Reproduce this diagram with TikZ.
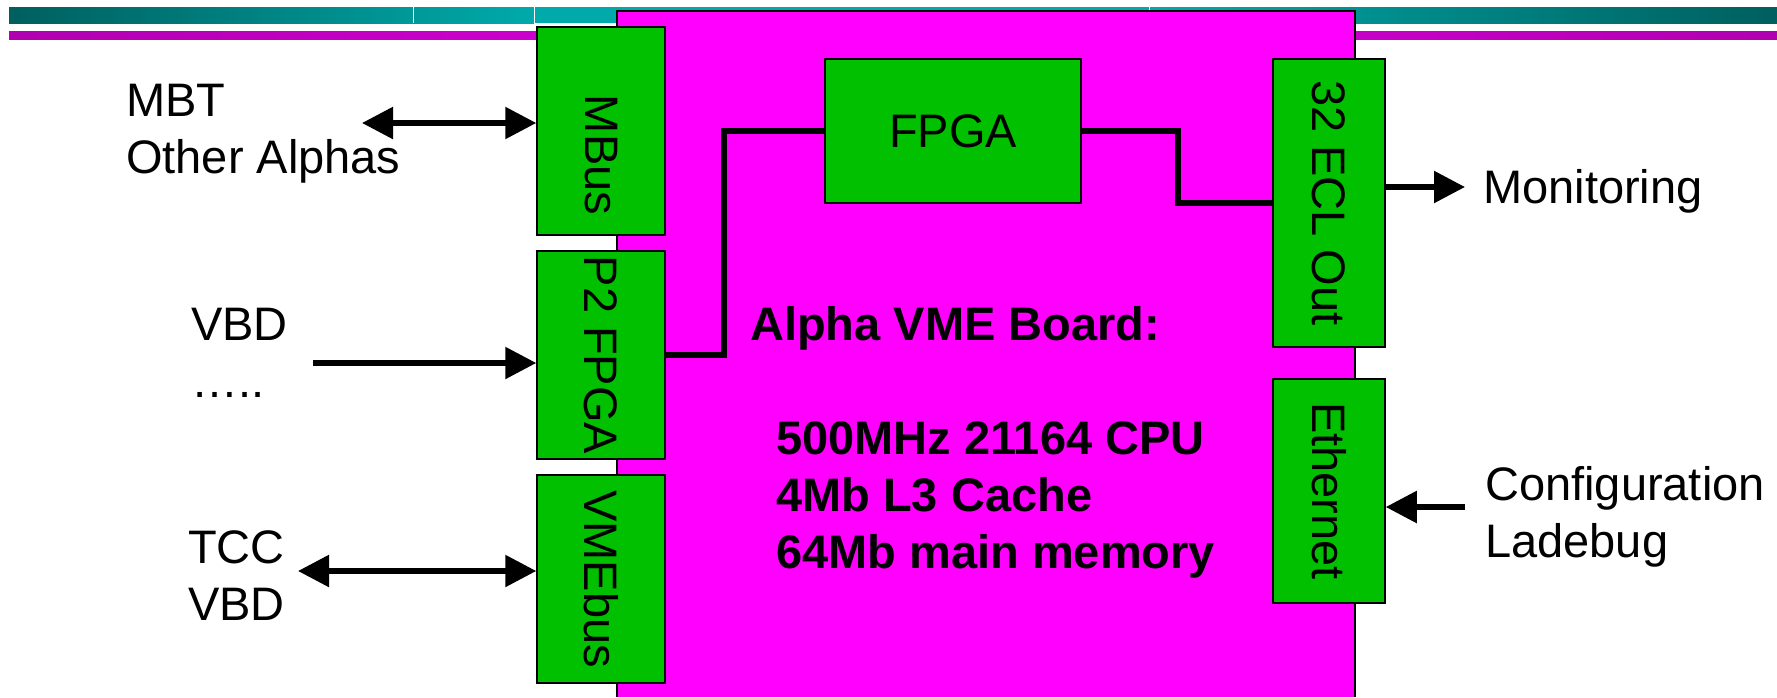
\documentclass[tikz,border=0pt]{standalone}
\usepackage{fontspec}
\usepackage{graphicx}
\setmainfont{Liberation Sans}
\usepackage{tikz}
\usetikzlibrary{arrows.meta, positioning}
\definecolor{boardmag}{HTML}{FF00FF}
\definecolor{chipgreen}{HTML}{00C000}
\definecolor{tealdark}{HTML}{005F5F}
\definecolor{teallight}{HTML}{00AAAA}
\definecolor{barmagdark}{HTML}{B000B0}
\definecolor{barmaglight}{HTML}{E000E0}
\tikzstyle{chip}=[rectangle,draw=black,fill=chipgreen,line width=1.5pt,
  inner sep=0pt,font=\fontsize{47}{56}\selectfont]
\tikzstyle{wire}=[line width=5.5pt,color=black]
\tikzstyle{arr}=[-{Triangle[length=31pt,width=31pt]},line width=5.5pt]
\tikzstyle{dblarr}=[{Triangle[length=31pt,width=31pt]}-{Triangle[length=31pt,width=31pt]},line width=5.5pt]
\tikzstyle{lbl}=[anchor=base west,inner sep=0pt,align=left,
  font=\fontsize{47}{57}\selectfont]
\tikzstyle{boardtxt}=[anchor=base west,inner sep=0pt,align=left,
  font=\fontsize{47}{57}\selectfont\bfseries]

\begin{document}
\begin{tikzpicture}[x=1pt,y=-1pt]
  \useasboundingbox (0,0) rectangle (1777,697);
  % title bars
  \shade[left color=tealdark,right color=teallight] (9,7) rectangle (534,23);
  \fill[teallight] (534,7) rectangle (1149,23);
  \shade[left color=teallight,right color=tealdark] (1149,7) rectangle (1777,23);
  \foreach \xd in {413,534,1149}
    \draw[white,line width=1pt] (\xd,7) -- (\xd,23);
  \shade[left color=barmagdark,right color=barmaglight] (9,31) rectangle (893,39);
  \shade[left color=barmaglight,right color=barmagdark] (893,31) rectangle (1777,39);
  % board
  \fill[boardmag] (617,11) rectangle (1355,697);
  \draw[line width=2pt] (617,697) -- (617,11) -- (1355,11) -- (1355,697);
  % chips
  \node[chip,minimum width=128pt,minimum height=208pt] (mbus) at (601,131) {};
  \node[inner sep=0pt,font=\fontsize{47}{56}\selectfont] (mbuslbl) at (601,155) {\rotatebox{-90}{MBus}};
  \node[chip,minimum width=128pt,minimum height=208pt] (p2) at (601,355) {\rotatebox{-90}{P2 FPGA}};
  \node[chip,minimum width=128pt,minimum height=208pt] (vme) at (601,579) {\rotatebox{-90}{VMEbus}};
  \node[chip,minimum width=256pt,minimum height=144pt] (fpga) at (953,131) {FPGA};
  \node[chip,minimum width=112pt,minimum height=288pt] (ecl) at (1329,203) {\rotatebox{-90}{32 ECL Out}};
  \node[chip,minimum width=112pt,minimum height=224pt] (eth) at (1329,491) {\rotatebox{-90}{Ethernet}};
  % board text (base = last line)
  \node[boardtxt] (boardname) at (750,340) {Alpha VME Board:};
  \node[boardtxt] (specs) at (776,568) {500MHz 21164 CPU\\4Mb L3 Cache\\64Mb main memory};
  % internal wiring
  \draw[wire] (p2.east) -- ++(58,0) |- (fpga.west);
  \draw[wire] (fpga.east) -- ++(96,0) |- (ecl.west);
  % outside world
  \node[lbl] (mbt) at (126,173) {MBT\\Other Alphas};
  \node[lbl] (vbd) at (191,397) {VBD\\…..};
  \node[lbl] (tcc) at (188,620) {TCC\\VBD};
  \node[lbl] (mon) at (1483,203) {Monitoring};
  \node[lbl] (conf) at (1485,557) {Configuration\\Ladebug};
  \coordinate (mbtend) at (362,123);
  \coordinate (vbdend) at (313,363);
  \coordinate (tccend) at (298,571);
  \coordinate (monend) at (1465,187);
  \coordinate (confend) at (1465,507);
  \draw[dblarr] (mbtend) -- (mbtend -| mbus.west);
  \draw[arr] (vbdend) -- (vbdend -| p2.west);
  \draw[dblarr] (tccend) -- (tccend -| vme.west);
  \draw[arr] (monend -| ecl.east) -- (monend);
  \draw[arr] (confend) -- (confend -| eth.east);
\end{tikzpicture}
\end{document}
